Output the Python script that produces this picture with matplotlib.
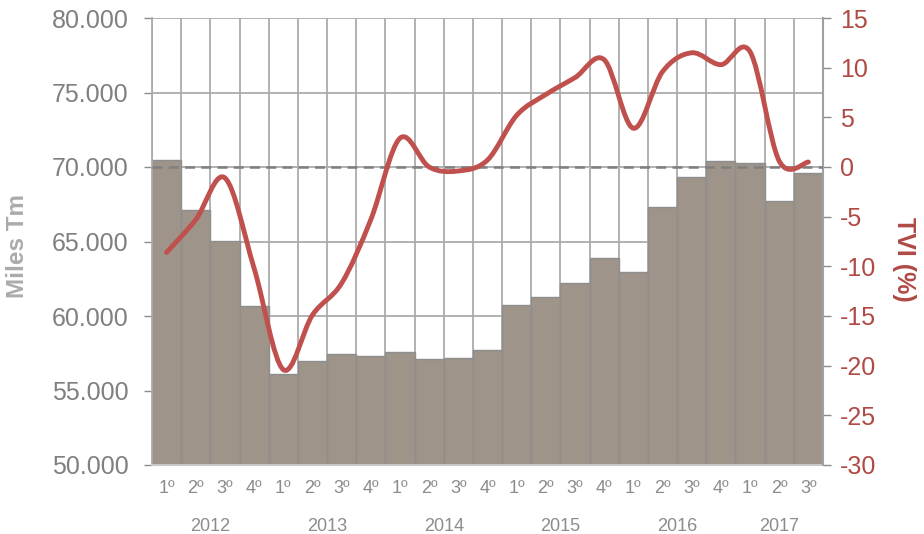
import matplotlib
matplotlib.use('Agg')
import matplotlib.pyplot as plt
from matplotlib.path import Path
from matplotlib.patches import PathPatch
from matplotlib.transforms import blended_transform_factory

plt.rcParams['font.family'] = ['Liberation Sans', 'DejaVu Sans']
plt.rcParams['axes.unicode_minus'] = False

quarters = ['1º', '2º', '3º', '4º'] * 5 + ['1º', '2º', '3º']
years = ['2012', '2013', '2014', '2015', '2016', '2017']
year_pos = [1.5, 5.5, 9.5, 13.5, 17.5, 21.0]

# miles de toneladas por trimestre
miles_tm = [70450, 67100, 65030, 60670, 56130, 57000, 57430, 57340,
            57600, 57090, 57160, 57720, 60740, 61280, 62240, 63870,
            62930, 67300, 69350, 70400, 70250, 67720, 69620]
# tasa de variación interanual (%)
tvi = [-8.6, -5.3, -1.1, -10.2, -20.4, -14.9, -11.7, -5.3,
       2.9, 0.0, -0.4, 0.7, 5.2, 7.3, 9.0, 10.8,
       3.9, 9.6, 11.5, 10.3, 11.6, 0.6, 0.5]

bar_col = '#9e9489'
red = '#c0504d'
red_txt = '#b04a45'
grid_col = '#ababab'

fig = plt.figure(figsize=(9.24, 5.34), dpi=100)
ax = fig.add_axes([152 / 924, 69 / 534, 671 / 924, 447 / 534])

x = list(range(len(miles_tm)))
ax.bar(x, miles_tm, width=1.0, color=bar_col, edgecolor='#8e8e8e',
       linewidth=1.0, zorder=2)
ax.set_xlim(-0.5, len(x) - 0.5)
ax.set_ylim(50000, 80000)
ax.set_yticks(range(50000, 80001, 5000))
ax.set_yticklabels([f'{v // 1000}.000' for v in range(50000, 80001, 5000)])
ax.set_xticks(x)
ax.set_xticklabels(quarters)
ax.set_xticks([i - 0.5 for i in range(len(x) + 1)], minor=True)
ax.set_axisbelow(True)
ax.grid(axis='y', color=grid_col, linewidth=1.3, zorder=0)
ax.grid(axis='x', which='minor', color=grid_col, linewidth=1.3, zorder=0)
ax.tick_params(axis='x', which='both', length=0, labelsize=13,
               labelcolor='#8c8c8c', pad=11)
ax.tick_params(axis='y', length=6, width=1, color='#8c8c8c',
               labelsize=18, labelcolor='#808080', pad=11)
for s in ['top', 'right']:
    ax.spines[s].set_visible(False)
ax.spines['left'].set_color(grid_col)
ax.spines['left'].set_linewidth(1.3)
ax.spines['bottom'].set_color('#c8c8c8')
ax.spines['bottom'].set_linewidth(1.5)
ax.set_ylabel('Miles Tm', fontsize=17.5, fontweight='bold', color='#ababab',
              va='center')
ax.yaxis.set_label_coords(-0.201, 0.49)

tr = blended_transform_factory(ax.transData, ax.transAxes)
for yr, p in zip(years, year_pos):
    ax.text(p, -0.138, yr, transform=tr, ha='center', va='center',
            fontsize=13, color='#8c8c8c')

ax2 = ax.twinx()
ax2.set_ylim(-30, 15)
ax2.set_yticks(range(-30, 16, 5))
ax2.tick_params(axis='y', length=6, width=1, color='#8c8c8c',
                labelsize=18, labelcolor=red_txt, pad=6)
for s in ['top', 'left', 'bottom']:
    ax2.spines[s].set_visible(False)
ax2.spines['right'].set_color('#a0a0a0')
ax2.spines['right'].set_linewidth(1.5)
ax2.set_ylabel('TVI (%)', fontsize=18, fontweight='bold', color=red_txt,
               rotation=-90, va='center')
ax2.yaxis.set_label_coords(1.12, 0.46)

ax2.axhline(0, color='#7f7f7f', linestyle=(0, (4, 2.5)), linewidth=1.8,
            zorder=3)

# curva suavizada (Catmull-Rom pasada a Bézier)
pts = list(zip(x, tvi))
verts = [pts[0]]
codes = [Path.MOVETO]
n = len(pts)
for i in range(n - 1):
    p0 = pts[i - 1] if i > 0 else pts[i]
    p1 = pts[i]
    p2 = pts[i + 1]
    p3 = pts[i + 2] if i + 2 < n else pts[i + 1]
    c1 = (p1[0] + (p2[0] - p0[0]) / 6, p1[1] + (p2[1] - p0[1]) / 6)
    c2 = (p2[0] - (p3[0] - p1[0]) / 6, p2[1] - (p3[1] - p1[1]) / 6)
    verts += [c1, c2, p2]
    codes += [Path.CURVE4] * 3
ax2.add_patch(PathPatch(Path(verts, codes), facecolor='none', edgecolor=red,
                        linewidth=3.5, capstyle='round', zorder=4))

fig.savefig('out.png', dpi=100)
